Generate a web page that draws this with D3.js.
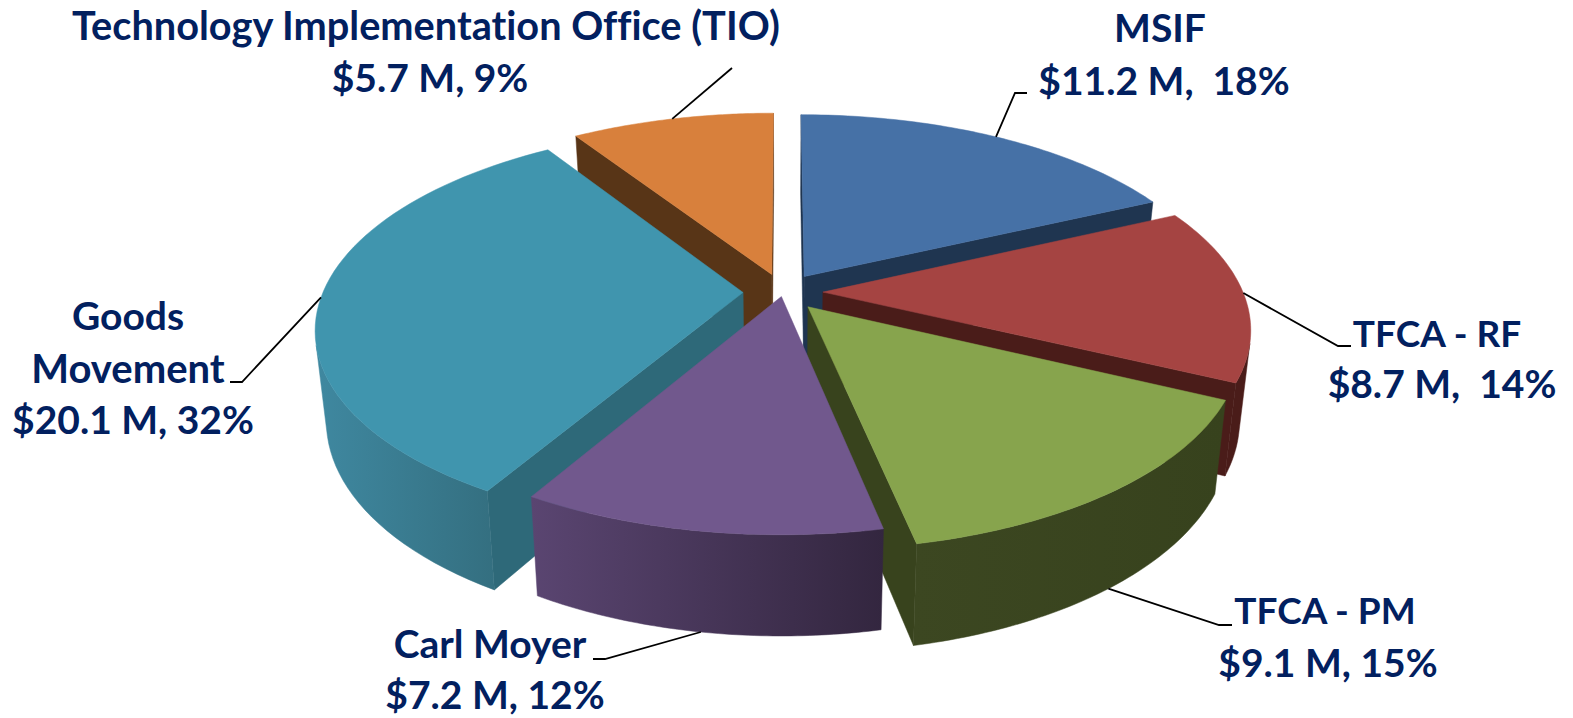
<!DOCTYPE html>
<html>
<head>
<meta charset="utf-8">
<script src="https://cdn.jsdelivr.net/npm/d3@7"></script>
<style>
  html, body { margin: 0; padding: 0; background: #fff; }
  text { font-family: Lato, "Open Sans", sans-serif; font-weight: 700; white-space: pre; font-variant-ligatures: none; }
</style>
</head>
<body>
<div id="chart"></div>
<script>
// chart values
var names = ["MSIF", "TFCA - RF", "TFCA - PM", "Carl Moyer", "Goods Movement", "Technology Implementation Office (TIO)"];
var amounts = [11.2, 8.7, 9.1, 7.2, 20.1, 5.7];
var labelLines = [
  ["MSIF", "$11.2 M,  18%"],
  ["TFCA - RF", "$8.7 M,  14%"],
  ["TFCA - PM", "$9.1 M, 15%"],
  ["Carl Moyer", "$7.2 M, 12%"],
  ["Goods", "Movement", "$20.1 M, 32%"],
  ["Technology Implementation Office (TIO)", "$5.7 M, 9%"]
];

// slice colours
var topColors = ["#4671A6", "#A54442", "#87A44D", "#71588D", "#4095AE", "#D8803C"];
var cutColors = ["#1F3550", "#4A1C19", "#38431D", "#35283F", "#2E6979", "#583517"];
var wallLeft = ["#2B476B", "#4A1C19", "#3C4721", "#5A4571", "#3F88A0", "#6E4220"];
var wallRight = ["#1F3550", "#4A1C19", "#37421D", "#33263F", "#346F80", "#583517"];

// how far each slice is pulled out, in radius units
var explode = [0.095, 0.095, 0.095, 0.0235, 0.095, 0.095];

// painter's order, back to front
var drawOrder = [0, 5, 1, 4, 2, 3];

// label placement: text centres, baselines, font sizes and the leader elbow
var labelLayout = [
  { x: [1160, 1164], y: [42, 95], size: [39, 39], elbow: [[1015, 93], [1027, 93]], bottom: false },
  { x: [1437, 1442], y: [347, 398], size: [37, 39], elbow: [[1338, 346], [1351, 346]], bottom: false },
  { x: [1325, 1328], y: [624, 677], size: [37, 39], elbow: [[1219, 625], [1232, 625]], bottom: true },
  { x: [490, 495], y: [658, 709], size: [39, 39], elbow: [[605, 659], [593, 659]], bottom: true },
  { x: [128, 128, 133], y: [330, 383, 434], size: [39, 40, 39], elbow: [[242, 382], [230, 382]], bottom: false },
  { x: [426, 430], y: [40, 92], size: [39.7, 39], elbow: [[732, 68]], bottom: false }
];

var width = 1573, height = 718;
var centerX = 783, centerY = 292;
var radius = 420, tilt = 195, persp = 0.174;
var depth = 88, shrink = 0.976;

var svg = d3.select("#chart").append("svg")
  .attr("width", width)
  .attr("height", height)
  .style("display", "block");
var defs = svg.append("defs");

var pie = d3.pie().sort(null).value(function(d) { return d; });
var arcs = pie(amounts);

// plane point -> screen. lower = true gives the underside of the pie
function project(px, py, lower) {
  var k = 1 / (1 - persp * py);
  var sx = px * radius * k;
  var sy = py * tilt * k;
  if (lower) {
    return [centerX + sx * shrink, centerY + sy * shrink + depth * k];
  }
  return [centerX + sx, centerY + sy];
}

function rimPoint(angle, offset) {
  return [Math.sin(angle) + offset[0], -Math.cos(angle) + offset[1]];
}

var polyLine = d3.line().curve(d3.curveLinearClosed);

arcs.forEach(function(arc, i) {
  arc.mid = (arc.startAngle + arc.endAngle) / 2;
  arc.offset = [Math.sin(arc.mid) * explode[i], -Math.cos(arc.mid) * explode[i]];
});

drawOrder.forEach(function(i) {
  var arc = arcs[i];
  var g = svg.append("g").attr("class", "slice");
  var offset = arc.offset;
  var steps = d3.range(0, 61).map(function(s) {
    return arc.startAngle + (arc.endAngle - arc.startAngle) * s / 60;
  });
  var rim = steps.map(function(a) { return rimPoint(a, offset); });
  var topRim = rim.map(function(p) { return project(p[0], p[1], false); });
  var lowRim = rim.map(function(p) { return project(p[0], p[1], true); });
  var apexTop = project(offset[0], offset[1], false);
  var apexLow = project(offset[0], offset[1], true);
  var topFace = [apexTop].concat(topRim);
  var topArea = d3.polygonArea(topFace);

  // only walls that face the viewer get drawn
  function facesViewer(a, b, c, d) {
    return d3.polygonArea([a, b, c, d]) * topArea < 0;
  }

  var cuts = [
    [apexTop, topRim[0], lowRim[0], apexLow],
    [topRim[60], apexTop, apexLow, lowRim[60]]
  ];
  cuts.forEach(function(q) {
    if (facesViewer(q[0], q[1], q[2], q[3])) {
      g.append("path")
        .attr("d", polyLine(q))
        .attr("fill", cutColors[i])
        .attr("stroke", cutColors[i])
        .attr("stroke-width", 0.5);
    }
  });

  // outer wall: the run of rim segments facing the viewer
  var upper = [], lower = [];
  d3.range(0, 60).forEach(function(s) {
    if (facesViewer(topRim[s], topRim[s + 1], lowRim[s + 1], lowRim[s])) {
      if (!upper.length) {
        upper.push(topRim[s]);
        lower.push(lowRim[s]);
      }
      upper.push(topRim[s + 1]);
      lower.push(lowRim[s + 1]);
    }
  });
  if (upper.length) {
    var wall = upper.concat(lower.slice().reverse());
    var xs = d3.extent(wall, function(p) { return p[0]; });
    var grad = defs.append("linearGradient")
      .attr("id", "wall" + i)
      .attr("gradientUnits", "userSpaceOnUse")
      .attr("x1", xs[0]).attr("x2", xs[1])
      .attr("y1", 0).attr("y2", 0);
    grad.append("stop").attr("offset", 0).attr("stop-color", wallLeft[i]);
    grad.append("stop").attr("offset", 1).attr("stop-color", wallRight[i]);
    g.append("path")
      .attr("d", polyLine(wall))
      .attr("fill", "url(#wall" + i + ")")
      .attr("stroke", "url(#wall" + i + ")")
      .attr("stroke-width", 0.5);
  }

  g.append("path")
    .attr("d", polyLine(topFace))
    .attr("fill", topColors[i])
    .attr("stroke", topColors[i])
    .attr("stroke-width", 0.5);
});

// leader lines, starting on the rim at each slice's middle angle
var leader = d3.line();
arcs.forEach(function(arc, i) {
  var rimMid = rimPoint(arc.mid, arc.offset);
  var start = project(rimMid[0], rimMid[1], labelLayout[i].bottom);
  svg.append("path")
    .attr("d", leader([start].concat(labelLayout[i].elbow)))
    .attr("fill", "none")
    .attr("stroke", "#000")
    .attr("stroke-width", 1.8);
});

// labels
labelLines.forEach(function(lines, i) {
  lines.forEach(function(line, j) {
    svg.append("text")
      .attr("x", labelLayout[i].x[j])
      .attr("y", labelLayout[i].y[j])
      .attr("text-anchor", "middle")
      .attr("font-size", labelLayout[i].size[j])
      .attr("fill", "#02205F")
      .text(line);
  });
});
</script>
</body>
</html>
